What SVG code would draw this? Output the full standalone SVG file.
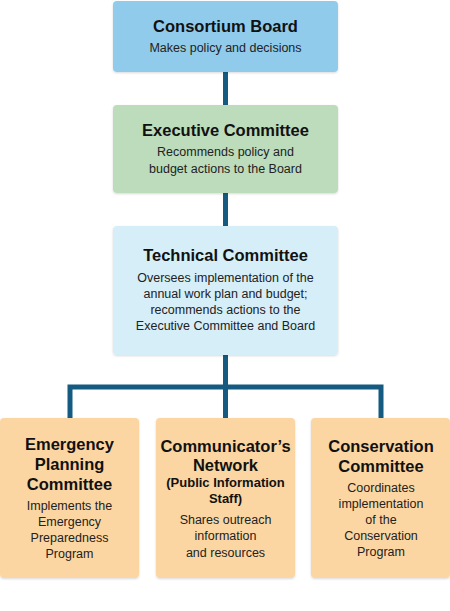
<svg xmlns="http://www.w3.org/2000/svg" width="450" height="611" viewBox="0 0 450 611">
<style>
.t{font-family:"Liberation Sans",Arial,sans-serif;font-weight:700;font-size:16.5px;fill:#111;text-anchor:middle}
.s{font-family:"Liberation Sans",Arial,sans-serif;font-size:12.5px;fill:#222;text-anchor:middle}
.p{font-family:"Liberation Sans",Arial,sans-serif;font-weight:700;font-size:13px;fill:#111;text-anchor:middle}
.c{fill:none;stroke:#155a80;stroke-width:5}
</style>
<defs>
<filter id="sh" x="-10%" y="-10%" width="120%" height="130%">
<feDropShadow dx="0" dy="1" stdDeviation="1" flood-color="#000" flood-opacity="0.15"/>
</filter>
</defs>
<rect width="450" height="611" fill="#fff"/>
<g id="connectors">
<path class="c" d="M225.5 72V106M225.5 192V227M225.5 354V387M70 418V387H381V418M225.5 387V418"/>
</g>
<g id="board">
<rect x="113" y="1" width="225" height="71" rx="4" fill="#90cbeb" filter="url(#sh)"/>
<text class="t" x="225.5" y="32">Consortium Board</text>
<text class="s" x="225.5" y="52">Makes policy and decisions</text>
</g>
<g id="executive">
<rect x="113" y="105" width="225" height="88" rx="4" fill="#bcdcbc" filter="url(#sh)"/>
<text class="t" x="225.5" y="136">Executive Committee</text>
<text class="s" x="225.5" y="156">Recommends policy and</text>
<text class="s" x="225.5" y="173">budget actions to the Board</text>
</g>
<g id="technical">
<rect x="113" y="226" width="225" height="129" rx="4" fill="#d5eef8" filter="url(#sh)"/>
<text class="t" x="225.5" y="261">Technical Committee</text>
<text class="s" x="225.5" y="282">Oversees implementation of the</text>
<text class="s" x="225.5" y="298">annual work plan and budget;</text>
<text class="s" x="225.5" y="314">recommends actions to the</text>
<text class="s" x="225.5" y="330">Executive Committee and Board</text>
</g>
<g id="emergency">
<rect x="0" y="418" width="139" height="160" rx="4" fill="#fcd6a2" filter="url(#sh)"/>
<text class="t" x="69.5" y="450">Emergency</text>
<text class="t" x="69.5" y="470">Planning</text>
<text class="t" x="69.5" y="490">Committee</text>
<text class="s" x="69.5" y="510">Implements the</text>
<text class="s" x="69.5" y="526">Emergency</text>
<text class="s" x="69.5" y="542">Preparedness</text>
<text class="s" x="69.5" y="558">Program</text>
</g>
<g id="communicators">
<rect x="156" y="418" width="139" height="160" rx="4" fill="#fcd6a2" filter="url(#sh)"/>
<text class="t" x="225.5" y="452">Communicator’s</text>
<text class="t" x="225.5" y="471">Network</text>
<text class="p" x="225.5" y="487">(Public Information</text>
<text class="p" x="225.5" y="503">Staff)</text>
<text class="s" x="225.5" y="524">Shares outreach</text>
<text class="s" x="225.5" y="540">information</text>
<text class="s" x="225.5" y="557">and resources</text>
</g>
<g id="conservation">
<rect x="311" y="418" width="139" height="160" rx="4" fill="#fcd6a2" filter="url(#sh)"/>
<text class="t" x="381" y="452">Conservation</text>
<text class="t" x="381" y="472">Committee</text>
<text class="s" x="381" y="492">Coordinates</text>
<text class="s" x="381" y="508">implementation</text>
<text class="s" x="381" y="524">of the</text>
<text class="s" x="381" y="540">Conservation</text>
<text class="s" x="381" y="556">Program</text>
</g>
</svg>
